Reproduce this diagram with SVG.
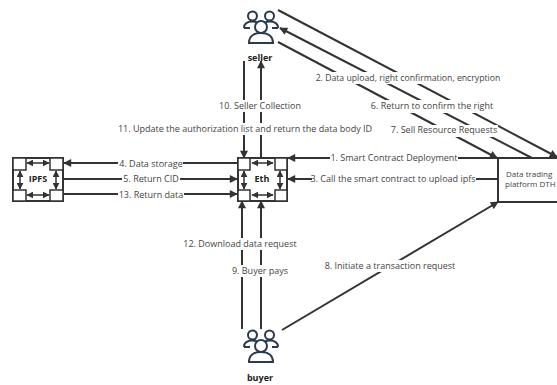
<svg xmlns="http://www.w3.org/2000/svg" width="557" height="385" viewBox="0 0 557 385">
<style>
.c{fill:none;stroke:#333;stroke-width:2}
.i{fill:none;stroke:#333;stroke-width:1.5}
.b{fill:#fff;stroke:#333;stroke-width:1.5}
.o{fill:#fff;stroke:#333;stroke-width:2}
.l{fill:#fff}
text{font-family:"Open Sans","Liberation Sans",sans-serif;font-size:9px;fill:#444;text-anchor:middle}
.n{font-weight:700;fill:#222;font-size:9px}
.t{font-size:8px;text-anchor:start}
.p{fill:none;stroke:#2b3a4e;stroke-width:2}
</style>
<defs>
<marker id="a" viewBox="0 0 10 10" refX="9" refY="5" markerWidth="10" markerHeight="8" markerUnits="userSpaceOnUse" orient="auto"><path d="M0 0L10 5L0 10z" fill="#333"/></marker>
<marker id="s" viewBox="0 0 10 10" refX="9" refY="5" markerWidth="7" markerHeight="7" markerUnits="userSpaceOnUse" orient="auto-start-reverse"><path d="M0 0L10 5L0 10z" fill="#333"/></marker>
<g id="ppl">
<circle cx="-8.500" cy="-12" r="4.500" class="p"/>
<path d="M-17 0C-17 -4 -14 -6.500 -8.500 -6.500C-6.500 -6.500 -5 -6 -4 -5.500M-17 0H-11" class="p"/>
<circle cx="8.500" cy="-12" r="4.500" class="p"/>
<path d="M17 0C17 -4 14 -6.500 8.500 -6.500C6.500 -6.500 5 -6 4 -5.500M17 0H11" class="p"/>
<circle cx="0" cy="-1" r="6" class="p"/>
<path d="M-12 15C-12 9 -8 5 0 5C8 5 12 9 12 15Z" class="p"/>
</g>
</defs>
<g id="connectors">
<path class="c" marker-end="url(#a)" d="M238 163H64"/>
<path class="c" marker-end="url(#a)" d="M63 179H237"/>
<path class="c" marker-end="url(#a)" d="M63 194H237"/>
<path class="c" marker-end="url(#a)" d="M498 158H288"/>
<path class="c" marker-end="url(#a)" d="M498 179H288"/>
<path class="c" marker-end="url(#a)" d="M282 330L498 202"/>
<path class="c" marker-end="url(#a)" d="M278 10L557 157"/>
<path class="c" marker-end="url(#a)" d="M532 158L280 28"/>
<path class="c" marker-end="url(#a)" d="M278 42L497 158"/>
<path class="c" marker-end="url(#a)" d="M244 61V158"/>
<path class="c" marker-end="url(#a)" d="M261 158V61"/>
<path class="c" marker-end="url(#a)" d="M242 329V201"/>
<path class="c" marker-end="url(#a)" d="M261 329V201"/>
</g>
<g id="labels">
<rect class="l" x="313" y="72" width="189" height="12"/><text x="408" y="81" style="font-size:8.700px">2. Data upload, right confirmation, encryption</text>
<rect class="l" x="370" y="100" width="124" height="13"/><text x="432" y="109">6. Return to confirm the right</text>
<rect class="l" x="391" y="125" width="107" height="12"/><text x="444" y="133">7. Sell Resource Requests</text>
<rect class="l" x="219" y="100" width="84" height="12"/><text x="260" y="109">10. Seller Collection</text>
<rect class="l" x="118" y="123" width="254" height="12"/><text x="245" y="132">11. Update the authorization list and return the data body ID</text>
<rect class="l" x="330" y="152" width="128" height="12"/><text x="394" y="161">1. Smart Contract Deployment</text>
<rect class="l" x="312" y="173" width="164" height="12"/><text x="393" y="182">3. Call the smart contract to upload ipfs</text>
<rect class="l" x="118" y="158" width="65" height="12"/><text x="151" y="167">4. Data storage</text>
<rect class="l" x="122" y="173" width="58" height="12"/><text x="151" y="182">5. Return CID</text>
<rect class="l" x="118" y="189" width="66" height="12"/><text x="151" y="198">13. Return data</text>
<rect class="l" x="184" y="238" width="113" height="12"/><text x="240" y="247">12. Download data request</text>
<rect class="l" x="232" y="265" width="56" height="12"/><text x="260" y="274">9. Buyer pays</text>
<rect class="l" x="324" y="260" width="132" height="12"/><text x="390" y="269">8. Initiate a transaction request</text>
</g>
<g id="ipfs">
<rect class="o" x="13" y="158" width="50" height="43"/>
<path class="i" marker-start="url(#s)" marker-end="url(#s)" d="M27 163H49"/>
<path class="i" marker-start="url(#s)" marker-end="url(#s)" d="M27 195H49"/>
<path class="i" marker-start="url(#s)" marker-end="url(#s)" d="M20 171V189"/>
<path class="i" marker-start="url(#s)" marker-end="url(#s)" d="M56 171V189"/>
<rect class="b" x="13" y="158" width="13" height="12"/><rect class="b" x="50" y="158" width="13" height="12"/>
<rect class="b" x="13" y="190" width="13" height="11"/><rect class="b" x="50" y="190" width="13" height="11"/>
<text class="n" x="38" y="182">IPFS</text>
</g>
<g id="eth">
<rect class="o" x="238" y="158" width="49" height="43"/>
<path class="i" marker-start="url(#s)" marker-end="url(#s)" d="M252 163H273"/>
<path class="i" marker-start="url(#s)" marker-end="url(#s)" d="M252 195H273"/>
<path class="i" marker-start="url(#s)" marker-end="url(#s)" d="M244 171V189"/>
<path class="i" marker-start="url(#s)" marker-end="url(#s)" d="M280 171V189"/>
<rect class="b" x="238" y="158" width="12" height="12"/><rect class="b" x="275" y="158" width="12" height="12"/>
<rect class="b" x="238" y="190" width="12" height="11"/><rect class="b" x="275" y="190" width="12" height="11"/>
<text class="n" x="262" y="182">Eth</text>
</g>
<g id="platform">
<rect class="o" x="498" y="158" width="80" height="44"/>
<text class="t" x="506" y="177">Data trading</text>
<text class="t" x="505" y="187">platform DTH</text>
</g>
<g id="seller"><use href="#ppl" x="261" y="28"/><text class="n" x="260" y="61">seller</text></g>
<g id="buyer"><use href="#ppl" x="261" y="347"/><text class="n" x="260" y="381">buyer</text></g>
</svg>
